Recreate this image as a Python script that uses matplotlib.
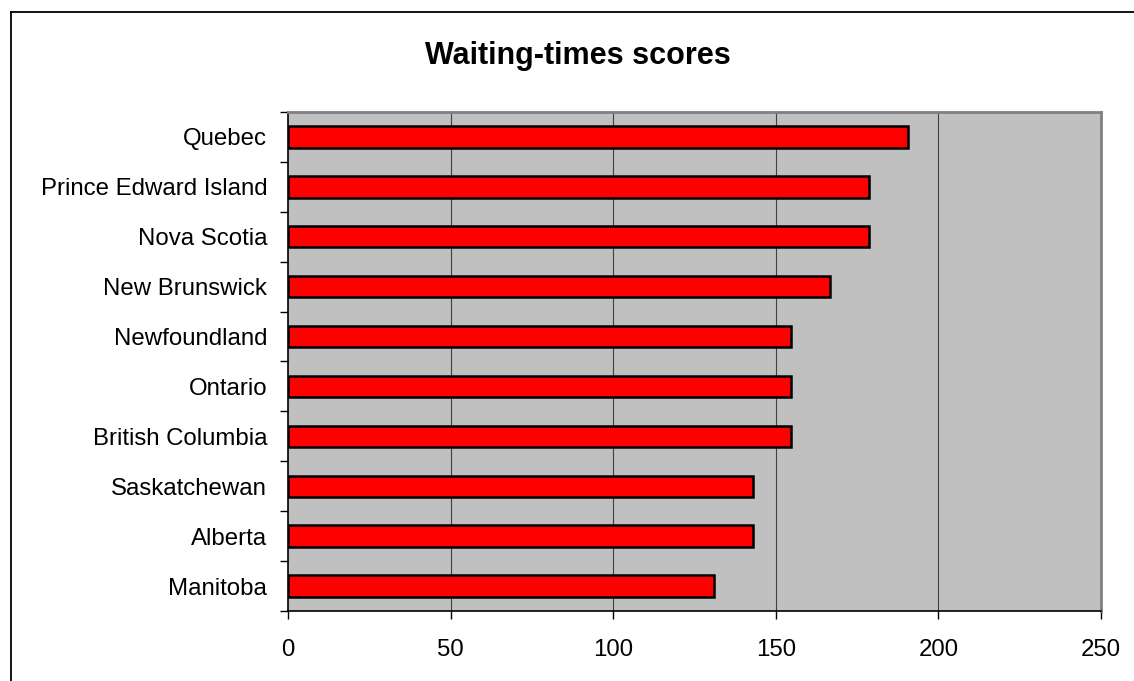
import matplotlib
matplotlib.use("Agg")
import matplotlib.pyplot as plt
from matplotlib.lines import Line2D
from matplotlib.ticker import FixedLocator

plt.rcParams['font.family'] = ['Liberation Sans', 'DejaVu Sans']

# Provinces listed bottom-to-top as they appear on the chart
provinces = [
    "Manitoba", "Alberta", "Saskatchewan", "British Columbia", "Ontario",
    "Newfoundland", "New Brunswick", "Nova Scotia", "Prince Edward Island", "Quebec",
]
scores = [131.0, 142.9, 142.9, 154.8, 154.8, 154.8, 166.7, 178.6, 178.6, 190.5]
x_ticks = [0, 50, 100, 150, 200, 250]
title = "Waiting-times scores"

W, H, DPI = 1134, 681, 100
fig = plt.figure(figsize=(W / DPI, H / DPI), dpi=DPI)
fig.patch.set_facecolor("white")

# Outer chart frame (top and left edges)
lw_frame = 1.3
fig.add_artist(Line2D([10.7 / W, 1.0], [1 - 12 / H, 1 - 12 / H],
                      transform=fig.transFigure, color="black", lw=lw_frame))
fig.add_artist(Line2D([10.7 / W, 10.7 / W], [0.0, 1 - 12 / H],
                      transform=fig.transFigure, color="black", lw=lw_frame))

left, right, top, bottom = 288 / W, 1101 / W, 112 / H, 611 / H
ax = fig.add_axes([left, 1 - bottom, right - left, bottom - top])
ax.set_facecolor("#C0C0C0")

ypos = list(range(len(provinces)))
ax.barh(ypos, scores, height=0.43, color="#FF0000", edgecolor="black",
        linewidth=1.8, zorder=3)

ax.set_xlim(0, 250)
ax.set_ylim(-0.5, len(provinces) - 0.5)

# Vertical gridlines at interior x ticks
for xv in x_ticks[1:-1]:
    ax.axvline(xv, color="#404040", lw=0.8, zorder=1)

ax.set_xticks(x_ticks)
ax.set_xticklabels([str(v) for v in x_ticks])

# Category labels centered on bars, tick marks on category boundaries
ax.yaxis.set_major_locator(FixedLocator(ypos))
ax.set_yticklabels(provinces)
ax.yaxis.set_minor_locator(FixedLocator([i - 0.5 for i in range(len(provinces) + 1)]))
ax.tick_params(axis="y", which="major", length=0, pad=15, labelsize=17.3)
ax.tick_params(axis="y", which="minor", length=6, width=1, color="black", direction="out")
ax.tick_params(axis="x", which="major", length=6, width=1, color="black",
               direction="out", pad=14, labelsize=17.3)

for side in ("left", "bottom"):
    ax.spines[side].set_color("black")
    ax.spines[side].set_linewidth(1.2)
for side in ("top", "right"):
    ax.spines[side].set_color("#808080")
    ax.spines[side].set_linewidth(2)

fig.text(578 / W, 1 - 64 / H, title, ha="center", va="baseline",
         fontsize=22, fontweight="bold")

fig.savefig("out.png", dpi=DPI)
